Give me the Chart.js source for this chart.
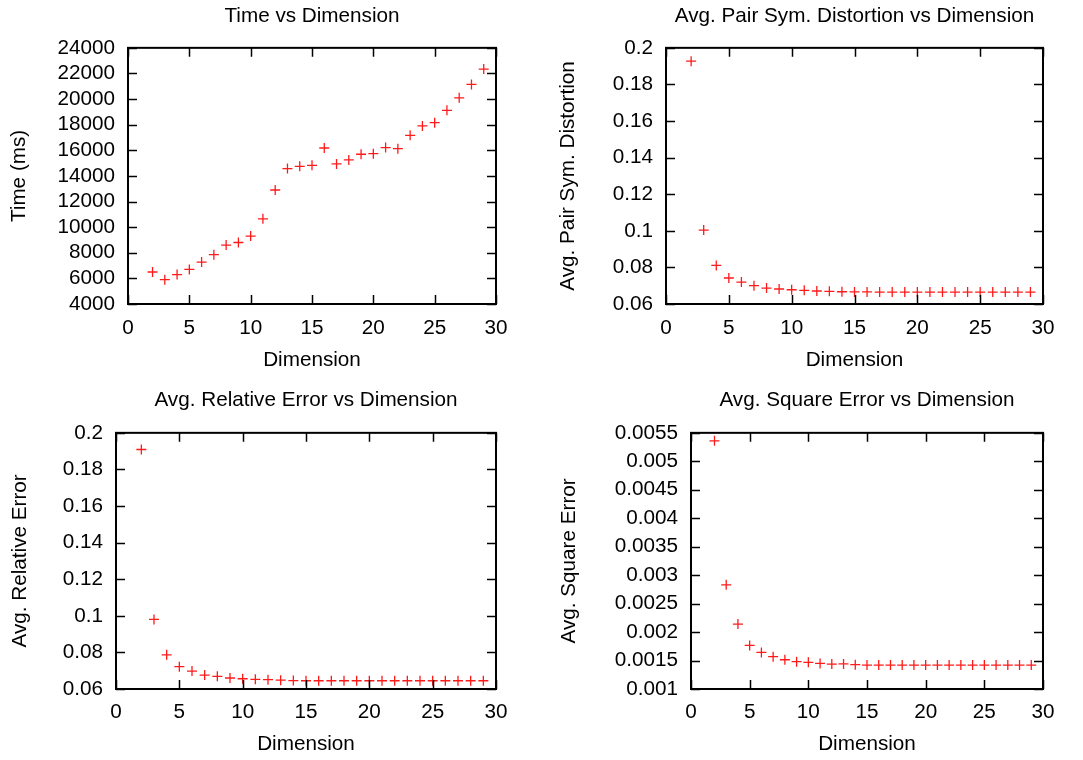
<!DOCTYPE html>
<html>
<head>
<meta charset="utf-8">
<script src="https://cdn.jsdelivr.net/npm/chart.js@4/dist/chart.umd.min.js"></script>
<style>
  html, body { margin:0; padding:0; background:#fff; }
  #wrap { position:relative; width:1083px; height:760px; overflow:hidden; }
  .panel { position:absolute; }
</style>
</head>
<body>
<div id="wrap">
  <div class="panel" style="left:0;top:0;width:541px;height:380px"><canvas id="c1"></canvas></div>
  <div class="panel" style="left:541px;top:0;width:542px;height:380px"><canvas id="c2"></canvas></div>
  <div class="panel" style="left:0;top:380px;width:541px;height:380px"><canvas id="c3"></canvas></div>
  <div class="panel" style="left:541px;top:380px;width:542px;height:380px"><canvas id="c4"></canvas></div>
</div>
<script>
// dimensions 2..29
const dims = [2,3,4,5,6,7,8,9,10,11,12,13,14,15,16,17,18,19,20,21,22,23,24,25,26,27,28,29];

const timeMs = [6500,5900,6300,6700,7270,7850,8600,8800,9300,10650,12900,14570,14750,14830,
  16180,14940,15250,15690,15740,16210,16130,17170,17900,18160,19120,20100,21140,22340];

const pairSymDist = [0.1927,0.1004,0.0811,0.0742,0.0720,0.0700,0.0687,0.0682,0.0678,0.0675,
  0.0671,0.0669,0.0667,0.0666,0.0666,0.0665,0.0665,0.0665,0.0665,0.0665,0.0665,0.0665,
  0.0665,0.0665,0.0665,0.0665,0.0665,0.0665];

const relError = [0.1909,0.0980,0.0787,0.0722,0.0698,0.0676,0.0669,0.0660,0.0656,0.0653,
  0.0651,0.0648,0.0646,0.0645,0.0645,0.0645,0.0645,0.0645,0.0645,0.0645,0.0645,0.0645,
  0.0645,0.0645,0.0645,0.0645,0.0645,0.0645];

const sqError = [0.00536,0.00283,0.00214,0.001766,0.001643,0.001567,0.001514,0.00148,0.001468,
  0.00145,0.001438,0.00144,0.001427,0.00142,0.00142,0.00142,0.00142,0.00142,0.00142,0.00142,
  0.00142,0.00142,0.00142,0.00142,0.00142,0.00142,0.00142,0.00142];

const xTicks = { min:0, max:30, step:5 };

const FONT = "'Liberation Sans', Arial, Helvetica, sans-serif";
const FSIZE = 20.7;

// inward ticks on all four sides + closed frame (gnuplot look)
const frameTicks = {
  id:'frameTicks',
  afterDraw(chart){
    const {ctx, chartArea:a, scales:{x,y}} = chart;
    const L = 9;
    ctx.save();
    ctx.strokeStyle = '#000';
    ctx.lineWidth = 1.5;
    ctx.beginPath();
    x.ticks.forEach(t => {
      const px = Math.round(x.getPixelForValue(t.value)) + 0.5;
      ctx.moveTo(px, a.bottom); ctx.lineTo(px, a.bottom - L);
      ctx.moveTo(px, a.top); ctx.lineTo(px, a.top + L);
    });
    y.ticks.forEach(t => {
      const py = Math.round(y.getPixelForValue(t.value)) + 0.5;
      ctx.moveTo(a.left, py); ctx.lineTo(a.left + L, py);
      ctx.moveTo(a.right, py); ctx.lineTo(a.right - L, py);
    });
    ctx.stroke();
    ctx.lineWidth = 2;
    ctx.strokeRect(a.left, a.top, a.right - a.left, a.bottom - a.top);
    ctx.restore();
  }
};

const fmtTick = v => String(parseFloat(Number(v).toPrecision(8)));

function makeChart(id, lay, title, yTitle, values, yMin, yMax, yStep){
  return new Chart(document.getElementById(id), {
    type:'scatter',
    data:{ datasets:[{
      data: dims.map((d,i) => ({x:d, y:values[i]})),
      pointStyle:'cross', pointRadius:5, pointBorderWidth:1.3,
      borderColor:'#ff1a1a', backgroundColor:'#ff1a1a', showLine:false
    }]},
    options:{
      responsive:false, animation:false,
      layout:{ padding:{ left:0, right:lay.right, top:0, bottom:0 } },
      plugins:{
        legend:{display:false}, tooltip:{enabled:false},
        title:{ display:true, text:title, fullSize:false, color:'#000',
          font:{family:FONT, size:FSIZE, weight:'normal'},
          padding:{top:lay.titleTop, bottom:lay.titleBottom} }
      },
      scales:{
        x:{ type:'linear', min:xTicks.min, max:xTicks.max,
          grid:{display:false, drawTicks:false}, border:{display:false},
          ticks:{ stepSize:xTicks.step, color:'#000', padding:lay.xPad, maxRotation:0, autoSkip:false,
            font:{family:FONT, size:FSIZE}, callback:fmtTick },
          title:{ display:true, text:'Dimension', color:'#000', font:{family:FONT, size:FSIZE},
            padding:{top:0, bottom:lay.xTitleBottom} },
          afterFit(s){ s.height = lay.xHeight; }
        },
        y:{ type:'linear', min:yMin, max:yMax,
          grid:{display:false, drawTicks:false}, border:{display:false},
          ticks:{ stepSize:yStep, color:'#000', padding:13, autoSkip:false,
            font:{family:FONT, size:FSIZE}, callback:fmtTick },
          title:{ display:true, text:yTitle, color:'#000', font:{family:FONT, size:FSIZE},
            padding:{top:lay.yTitleLeft, bottom:0} },
          afterFit(s){ s.width = lay.yWidth; }
        }
      }
    },
    plugins:[frameTicks]
  });
}

function sizeCanvas(id, w, h){ const c=document.getElementById(id); c.width=w; c.height=h; c.style.width=w+'px'; c.style.height=h+'px'; }
sizeCanvas('c1',541,380); sizeCanvas('c2',542,380); sizeCanvas('c3',541,380); sizeCanvas('c4',542,380);

makeChart('c1', {right:45, titleTop:4, titleBottom:19, xHeight:76, xPad:12, xTitleBottom:7, yWidth:128, yTitleLeft:7},
  'Time vs Dimension', 'Time (ms)', timeMs, 4000, 24000, 2000);
makeChart('c2', {right:40, titleTop:4, titleBottom:19, xHeight:76, xPad:12, xTitleBottom:7, yWidth:125, yTitleLeft:15},
  'Avg. Pair Sym. Distortion vs Dimension', 'Avg. Pair Sym. Distortion', pairSymDist, 0.06, 0.2, 0.02);
makeChart('c3', {right:45, titleTop:8, titleBottom:20, xHeight:71, xPad:11, xTitleBottom:3, yWidth:116, yTitleLeft:8},
  'Avg. Relative Error vs Dimension', 'Avg. Relative Error', relError, 0.06, 0.2, 0.02);
makeChart('c4', {right:40, titleTop:8, titleBottom:20, xHeight:71, xPad:11, xTitleBottom:3, yWidth:150, yTitleLeft:16},
  'Avg. Square Error vs Dimension', 'Avg. Square Error', sqError, 0.001, 0.0055, 0.0005);
</script>
</body>
</html>
